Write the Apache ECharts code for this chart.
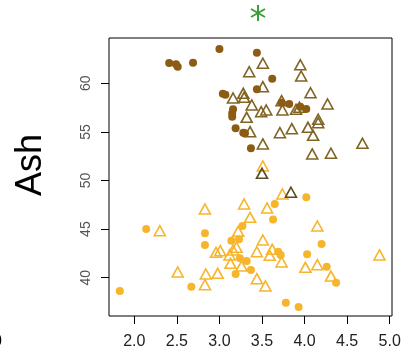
<!DOCTYPE html>
<html>
<head>
<meta charset="utf-8">
<script src="https://cdn.jsdelivr.net/npm/echarts@6/dist/echarts.min.js"></script>
<style>html,body{margin:0;padding:0;background:#fff;}#c{width:412px;height:351px;}</style>
</head>
<body>
<div id="c"></div>
<script>
var xTicks = [2.0, 2.5, 3.0, 3.5, 4.0, 4.5, 5.0];
var yTicks = [40, 45, 50, 55, 60];

var brownCircles = [
  [2.41,62.09],[2.49,61.95],[2.51,61.71],[2.69,62.12],[3.00,63.53],[3.44,63.15],[3.62,60.47],
  [3.44,59.38],[3.04,58.93],[3.07,58.83],[3.16,57.32],[3.15,56.91],[3.15,56.56],[3.19,55.37],
  [3.28,54.92],[3.30,54.86],[3.37,53.31],[3.73,58.00],[3.82,57.87],[3.95,57.59],[4.02,57.36]
];
var brownTriangles = [
  [3.51,62.06],[3.35,61.19],[3.95,61.91],[3.96,60.75],[3.51,59.65],[3.16,58.49],[3.28,58.97],
  [3.29,58.56],[3.38,57.77],[3.49,57.08],[3.55,57.25],[3.73,58.21],[3.74,57.25],[3.90,57.32],
  [3.94,57.53],[4.07,59.03],[4.27,57.87],[3.32,56.50],[3.36,55.02],[3.71,54.92],[3.85,55.33],
  [4.04,55.47],[4.10,54.65],[4.16,56.30],[4.16,55.95],[3.51,53.76],[4.09,52.73],[4.31,52.80],
  [4.68,53.83]
];
var darkTriangles = [[3.50,50.74],[3.84,48.79]];
var yellowCircles = [
  [4.02,48.27],[3.65,47.58],[3.63,46.00],[3.27,45.32],[2.14,45.01],[2.83,44.57],[2.83,43.36],
  [3.14,43.81],[3.23,43.95],[3.69,42.67],[3.72,42.34],[4.20,43.47],[4.03,42.41],[3.24,42.00],
  [3.32,41.72],[3.37,40.79],[3.19,40.38],[4.26,41.13],[4.37,39.49],[2.67,39.07],[1.83,38.63],
  [3.78,37.43],[3.93,36.99]
];
var yellowTriangles = [
  [3.51,51.49],[3.74,48.61],[2.83,47.07],[3.29,47.58],[3.56,47.17],[3.36,46.21],[3.22,44.77],
  [2.30,44.84],[4.15,45.32],[3.51,43.88],[3.20,43.13],[2.96,42.61],[3.01,42.78],[3.12,42.34],
  [3.16,42.85],[3.44,42.67],[3.62,42.92],[3.59,42.30],[4.88,42.34],[3.13,41.48],[3.26,41.20],
  [3.73,41.62],[4.01,41.07],[4.15,41.34],[4.31,40.17],[2.51,40.59],[2.84,40.38],[2.98,40.45],
  [2.83,39.28],[3.44,39.90],[3.54,39.15]
];

var BROWN = '#8c5c14', BROWN_T = '#806424', DARK_T = '#5a4d22', YEL = '#f7b52c';

var chart = echarts.init(document.getElementById('c'), null, {renderer: 'canvas'});
function circles(data, color) {
  return {type: 'scatter', data: data, symbol: 'circle', symbolSize: 8,
    itemStyle: {color: color, opacity: 1}, silent: true, animation: false};
}
function tris(data, color) {
  return {type: 'scatter', data: data, symbol: 'triangle', symbolSize: [11, 10],
    itemStyle: {color: 'rgba(0,0,0,0)', borderColor: color, borderWidth: 1.6, opacity: 1},
    silent: true, animation: false};
}
chart.setOption({
  animation: false,
  grid: {left: 109, right: 20, top: 38, bottom: 35, show: true, borderColor: '#000', borderWidth: 1, backgroundColor: 'transparent'},
  xAxis: {
    type: 'value', min: 1.703, max: 5.027,
    axisLine: {show: false}, splitLine: {show: false},
    axisTick: {show: true, length: 8, customValues: xTicks, lineStyle: {color: '#000'}},
    axisLabel: {customValues: xTicks, margin: 18, fontSize: 16, color: '#222', fontFamily: 'Liberation Sans',
      formatter: function (v) { return v.toFixed(1); }}
  },
  yAxis: {
    type: 'value', min: 36.06, max: 64.66,
    axisLine: {show: false}, splitLine: {show: false},
    axisTick: {show: true, length: 8, customValues: yTicks, lineStyle: {color: '#000'}},
    axisLabel: {customValues: yTicks, rotate: 90, margin: 16, fontSize: 14, color: '#555', fontFamily: 'Liberation Sans'}
  },
  graphic: [
    {type: 'text', x: 31, y: 165, rotation: Math.PI / 2,
      style: {text: 'Ash', fontSize: 36, fontFamily: 'Liberation Sans', fill: '#000', textAlign: 'center', textVerticalAlign: 'middle'}},
    {type: 'text', x: -7, y: 342,
      style: {text: '0', fontSize: 16, fontFamily: 'Liberation Sans', fill: '#000', textAlign: 'left', textVerticalAlign: 'middle'}},
    {type: 'group', x: 258, y: 13, children: [
      {type: 'line', shape: {x1: 0, y1: -8, x2: 0, y2: 8}, style: {stroke: '#3a9e3a', lineWidth: 2}},
      {type: 'line', shape: {x1: -7, y1: -4, x2: 7, y2: 4}, style: {stroke: '#3a9e3a', lineWidth: 2}},
      {type: 'line', shape: {x1: -7, y1: 4, x2: 7, y2: -4}, style: {stroke: '#3a9e3a', lineWidth: 2}}
    ]}
  ],
  series: [
    tris(yellowTriangles, YEL),
    circles(yellowCircles, YEL),
    tris(darkTriangles, DARK_T),
    tris(brownTriangles, BROWN_T),
    circles(brownCircles, BROWN)
  ]
});
</script>
</body>
</html>
